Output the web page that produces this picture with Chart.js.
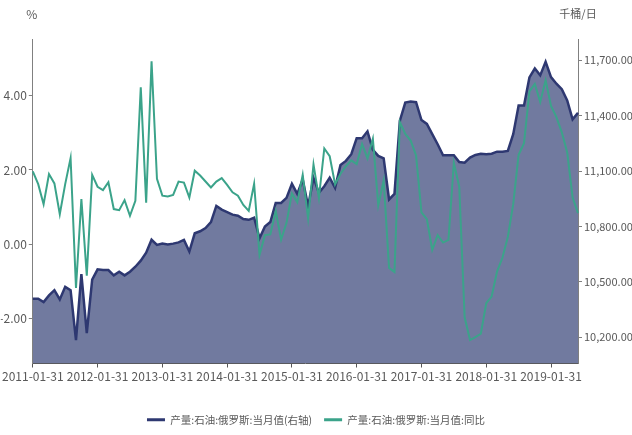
<!DOCTYPE html>
<html>
<head>
<meta charset="utf-8">
<script src="https://cdn.jsdelivr.net/npm/chart.js@4.4.1/dist/chart.umd.min.js"></script>
<style>
  body { margin: 0; background: #fff; }
  #wrap { width: 632px; height: 435px; }
</style>
</head>
<body>
<div id="wrap"><canvas id="oilChart" width="632" height="435"></canvas></div>
<script>
// 产量:石油:俄罗斯 2011-01 ~ 2019-06

const yearTicks = ['2011-01-31', '2012-01-31', '2013-01-31', '2014-01-31', '2015-01-31',
  '2016-01-31', '2017-01-31', '2018-01-31', '2019-01-31']

// 当月值(右轴), 千桶/日
const prodValues = [
  10409, 10409, 10391, 10427, 10455, 10405, 10473, 10455, 10185, 10542, 10222, 10512,
  10568, 10564, 10564, 10535, 10555, 10535, 10555, 10582, 10615, 10658, 10728, 10700,
  10707, 10703, 10707, 10714, 10727, 10664, 10763, 10774, 10791, 10823, 10911, 10891,
  10878, 10864, 10858, 10840, 10836, 10847, 10736, 10800, 10824, 10927, 10927, 10955,
  11031, 10976, 11055, 10909, 11064, 10982, 11018, 11064, 11009, 11133, 11155, 11191,
  11278, 11278, 11315, 11215, 11182, 11169, 10946, 10976, 11373, 11471, 11476, 11473,
  11376, 11355, 11300, 11245, 11185, 11185, 11185, 11149, 11145, 11173, 11187, 11194,
  11191, 11194, 11205, 11205, 11209, 11300, 11455, 11455, 11607, 11655, 11618, 11691,
  11609, 11573, 11543, 11482, 11380, 11415
]

// 当月值:同比, %
const yoyValues = [
  1.96, 1.62, 1.08, 1.89, 1.64, 0.81, 1.62, 2.32, -1.17, 1.22, -0.84, 1.87,
  1.55, 1.46, 1.67, 0.95, 0.92, 1.19, 0.77, 1.17, 4.22, 1.12, 4.92, 1.76,
  1.31, 1.29, 1.33, 1.69, 1.66, 1.26, 1.98, 1.85, 1.69, 1.53, 1.69, 1.78,
  1.60, 1.40, 1.31, 1.06, 0.90, 1.63, -0.28, 0.25, 0.27, 0.90, 0.13, 0.58,
  1.37, 1.13, 1.87, 0.70, 2.15, 1.25, 2.58, 2.37, 1.61, 1.90, 2.10, 2.26,
  2.16, 2.70, 2.31, 2.84, 1.05, 1.72, -0.63, -0.74, 3.29, 2.97, 2.79, 2.39,
  0.86, 0.68, -0.15, 0.25, 0.05, 0.12, 2.19, 1.55, -1.96, -2.57, -2.49, -2.40,
  -1.58, -1.40, -0.73, -0.36, 0.20, 1.08, 2.41, 2.72, 4.11, 4.31, 3.83, 4.41,
  3.72, 3.42, 3.01, 2.47, 1.26, 0.84
]

const leftTicks = [-2, 0, 2, 4]
const rightTicks = [10200, 10500, 10800, 11100, 11400, 11700]

// 月末日期
let months = []
for (let i = 0; i < prodValues.length; i++) {
  let y = 2011 + Math.floor(i / 12)
  let m = i % 12 + 1
  let d = new Date(y, m, 0).getDate()
  months.push(y + '-' + String(m).padStart(2, '0') + '-' + d)
}

const FONT = "'Noto Sans CJK SC', sans-serif"
const TEXT = '#595959'

const unitLabels = {
  id: 'unitLabels',
  afterDraw(chart) {
    let ctx = chart.ctx
    let area = chart.chartArea
    ctx.save()
    ctx.fillStyle = TEXT
    ctx.textAlign = 'center'
    ctx.textBaseline = 'middle'
    ctx.font = '12px ' + FONT
    ctx.fillText('%', area.left - 1, 14)
    ctx.font = '11px ' + FONT
    ctx.fillText('千桶/日', area.right, 14)
    ctx.restore()
  }
}

Chart.defaults.font.family = FONT
Chart.defaults.font.size = 12
Chart.defaults.color = TEXT

let ctxOil = document.getElementById('oilChart')

new Chart(ctxOil, {
  type: 'line',
  data: {
    labels: months,
    datasets: [{
      label: '产量:石油:俄罗斯:当月值(右轴)',
      data: prodValues,
      yAxisID: 'yRight',
      borderColor: '#2e3871',
      backgroundColor: '#717a9f',
      borderWidth: 2.5,
      fill: 'start',
      pointRadius: 0,
      order: 2,
    }, {
      label: '产量:石油:俄罗斯:当月值:同比',
      data: yoyValues,
      yAxisID: 'yLeft',
      borderColor: '#3ba38a',
      backgroundColor: '#3ba38a',
      borderWidth: 2,
      fill: false,
      pointRadius: 0,
      order: 1,
    }]
  },
  options: {
    responsive: false,
    animation: false,
    layout: {
      padding: { top: 39, bottom: 0 }
    },
    plugins: {
      tooltip: { enabled: false },
      legend: {
        position: 'bottom',
        labels: {
          boxWidth: 18,
          boxHeight: 3,
          padding: 12,
          color: TEXT,
          font: { size: 10.5 },
          sort: (a, b) => a.datasetIndex - b.datasetIndex,
          generateLabels(chart) {
            let items = Chart.defaults.plugins.legend.labels.generateLabels(chart)
            items.forEach(it => {
              it.fillStyle = it.strokeStyle
              it.lineWidth = 0
            })
            return items
          }
        }
      }
    },
    scales: {
      x: {
        type: 'category',
        offset: false,
        grid: { display: true, drawOnChartArea: false, drawTicks: true, tickLength: 4, color: '#555' },
        border: { display: true, color: '#555', width: 1 },
        ticks: { autoSkip: false, maxRotation: 0, padding: 2 },
        afterBuildTicks(axis) {
          axis.ticks = axis.ticks.filter(t => yearTicks.includes(months[t.value]))
        },
        afterFit(axis) { axis.height = 39 }
      },
      yLeft: {
        position: 'left',
        min: -3.2,
        max: 5.52,
        grid: { display: true, drawOnChartArea: false, drawTicks: true, tickLength: 4, color: '#808080' },
        border: { display: true, color: '#808080', width: 1 },
        ticks: { padding: 2, callback: v => v.toFixed(2) },
        afterBuildTicks(axis) { axis.ticks = leftTicks.map(v => ({ value: v })) },
        afterFit(axis) { axis.width = 32 }
      },
      yRight: {
        position: 'right',
        min: 10058,
        max: 11815,
        grid: { display: true, drawOnChartArea: false, drawTicks: true, tickLength: 4, color: '#808080' },
        border: { display: true, color: '#808080', width: 1 },
        ticks: {
          padding: 2,
          font: { size: 11 },
          callback: v => v.toLocaleString('en-US', { minimumFractionDigits: 2, maximumFractionDigits: 2 })
        },
        afterBuildTicks(axis) { axis.ticks = rightTicks.map(v => ({ value: v })) },
        afterFit(axis) { axis.width = 54 }
      }
    }
  },
  plugins: [unitLabels]
});
</script>
</body>
</html>
